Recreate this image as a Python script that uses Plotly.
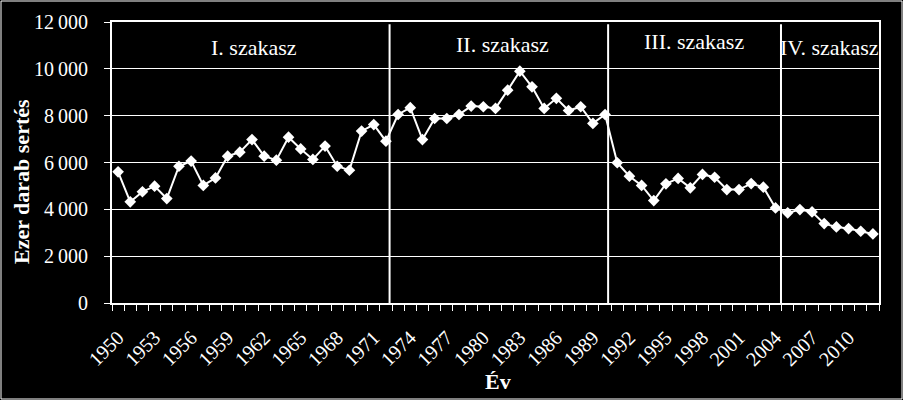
import plotly.graph_objects as go

years = list(range(1950, 2013))
pigs = [5600, 4320, 4750, 4990, 4460, 5840, 6060, 5020, 5340, 6270,
        6440, 6980, 6270, 6100, 7080, 6580, 6130, 6700, 5840, 5670,
        7340, 7620, 6910, 8050, 8340, 6980, 7880, 7880, 8050, 8410,
        8380, 8310, 9090, 9900, 9230, 8310, 8740, 8220, 8380, 7670,
        8050, 5990, 5415, 5020, 4375, 5090, 5320, 4920, 5490, 5370,
        4845, 4845, 5100, 4945, 4060, 3850, 3990, 3890, 3390, 3250,
        3180, 3065, 2950]

tick_years = list(range(1950, 2011, 3))
tick_labels = [str(y) for y in tick_years]
y_ticks = [0, 2000, 4000, 6000, 8000, 10000, 12000]
y_tick_labels = ["0", "2\u2009000", "4\u2009000", "6\u2009000", "8\u2009000", "10\u2009000", "12\u2009000"]

phase_names = ["I. szakasz", "II. szakasz", "III. szakasz", "IV. szakasz"]
phase_label_x = [1961.2, 1981.6, 1997.3, 2008.4]
phase_label_y = [10900, 11050, 11150, 10900]
phase_bounds = [1972.3, 1990.25, 2004.45]

FONT = "Liberation Serif"
W, H = 903, 400
L, R, T, B = 112, 24, 22, 97
pw, ph = W - L - R, H - T - B

fig = go.Figure()
fig.add_trace(go.Scatter(
    x=years, y=pigs, mode="lines+markers",
    line=dict(color="white", width=2),
    marker=dict(symbol="diamond", size=9, color="white"),
    showlegend=False, hoverinfo="x+y"))

shapes = []
for xb in phase_bounds:
    shapes.append(dict(type="line", xref="x", yref="y", x0=xb, x1=xb,
                       y0=-380, y1=11900, line=dict(color="white", width=2),
                       layer="above"))
# outer chart border
shapes.append(dict(type="rect", xref="paper", yref="paper",
                   x0=(1 - L) / pw, x1=(W - 1 - L) / pw,
                   y0=(H - B - (H - 1)) / ph, y1=(H - B - 1) / ph,
                   line=dict(color="white", width=1)))

annotations = []
for name, ax_, ay_ in zip(phase_names, phase_label_x, phase_label_y):
    annotations.append(dict(x=ax_, y=ay_, xref="x", yref="y", text=name,
                            xanchor="center", yanchor="middle",
                            showarrow=False, font=dict(family=FONT, size=22, color="white")))
annotations.append(dict(x=(22 - L) / pw, y=(H - B - 182) / ph, xref="paper", yref="paper",
                        xanchor="center", yanchor="middle",
                        text="<b>Ezer darab sertés</b>", textangle=-90, showarrow=False,
                        font=dict(family=FONT, size=22, color="white")))
annotations.append(dict(x=(498 - L) / pw, y=(H - B - 382) / ph, xref="paper", yref="paper",
                        xanchor="center", yanchor="middle",
                        text="<b>Év</b>", showarrow=False,
                        font=dict(family=FONT, size=22, color="white")))

fig.update_layout(
    width=W, height=H,
    margin=dict(l=L, r=R, t=T, b=B),
    paper_bgcolor="black", plot_bgcolor="black",
    font=dict(family=FONT, color="white", size=20),
    shapes=shapes, annotations=annotations,
    xaxis=dict(range=[1949.5, 2012.5], tickmode="array", tickvals=tick_years,
               ticktext=tick_labels, tickangle=-45, ticks="", showgrid=False,
               automargin=False, ticklabelstandoff=13,
               zeroline=False, showline=True, linecolor="white", linewidth=2, mirror=True,
               tickfont=dict(family=FONT, size=20, color="white"),
               minor=dict(tick0=1949.5, dtick=1, ticks="outside", ticklen=6,
                          tickcolor="white", tickwidth=1, showgrid=False)),
    yaxis=dict(range=[0, 12000], tickmode="array", tickvals=y_ticks, ticktext=y_tick_labels,
               ticks="outside", ticklen=6, tickcolor="white", tickwidth=1,
               automargin=False, ticklabelstandoff=12,
               showgrid=True, gridcolor="white", gridwidth=1, zeroline=False,
               showline=True, linecolor="white", linewidth=2, mirror=True,
               tickfont=dict(family=FONT, size=20, color="white")),
)

fig.write_html("out.html", config={"displayModeBar": False},
               post_script="document.body.style.margin='0';document.body.style.background='black';")
